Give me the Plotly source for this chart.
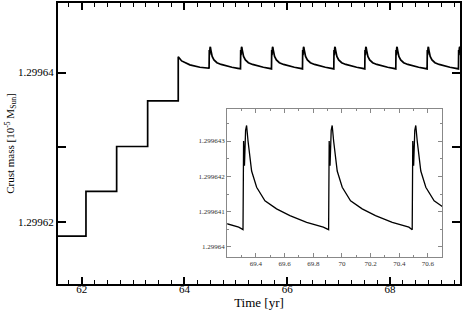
import plotly.graph_objects as go

# --- data ---
# staircase before the periodic regime
step_times = [61.54, 62.084, 62.681, 63.284, 63.879]
step_levels = [1.2996181, 1.2996241, 1.2996301, 1.2996362]

# first relaxation after the last step
first_t = [63.879, 63.945, 64.105, 64.30, 64.479]
first_v = [1.29964212, 1.29964155, 1.29964102, 1.2996407, 1.29964057]

# one periodic cycle: time offset from spike onset, value
cycle_dt = [0.0, 0.004, 0.010, 0.018, 0.025, 0.035, 0.060, 0.095, 0.153, 0.234, 0.327, 0.444, 0.56]
cycle_v = [1.29964049, 1.29964300, 1.29964230, 1.29964330, 1.29964344, 1.29964300,
           1.29964215, 1.29964169, 1.29964131, 1.29964108, 1.29964089, 1.29964070, 1.29964056]

# spike onset times (main panel and inset)
main_spikes = [64.479, 65.09, 65.693, 66.296, 66.905, 67.508, 68.111, 68.72, 69.33]
inset_spikes = [68.72, 69.31, 69.907, 70.49]

main_xticks = [62, 64, 66, 68]
main_yticks = [1.29962, 1.29963, 1.29964]
main_ylabels = ["1.29962", "", "1.29964"]
inset_xticks = [69.4, 69.6, 69.8, 70.0, 70.2, 70.4, 70.6]
inset_xlabels = ["69.4", "69.6", "69.8", "70", "70.2", "70.4", "70.6"]
inset_yticks = [1.29964, 1.299641, 1.299642, 1.299643]
inset_ylabels = ["1.29964", "1.299641", "1.299642", "1.299643"]


def build_cycles(spikes):
    t, v = [], []
    for s in spikes:
        for d, val in zip(cycle_dt, cycle_v):
            t.append(s + d)
            v.append(val)
    return t, v


# main curve
mt, mv = [], []
for i, lev in enumerate(step_levels):
    mt += [step_times[i], step_times[i + 1]]
    mv += [lev, lev]
mt += first_t
mv += first_v
ct, cv = build_cycles(main_spikes)
mt += ct
mv += cv

it, iv = build_cycles(inset_spikes)

font = "Liberation Serif"
fig = go.Figure()
fig.add_trace(go.Scatter(x=mt, y=mv, mode="lines", line=dict(color="black", width=1.7),
                         xaxis="x", yaxis="y", showlegend=False))
fig.add_trace(go.Scatter(x=it, y=iv, mode="lines", line=dict(color="black", width=1.3),
                         xaxis="x2", yaxis="y2", showlegend=False))

fig.update_layout(
    width=463, height=312,
    margin=dict(l=58, r=3, t=1, b=28),
    paper_bgcolor="white", plot_bgcolor="white",
    font=dict(family=font, color="black"),
    xaxis=dict(range=[61.54, 69.36], domain=[0, 1], anchor="y",
               showline=True, linecolor="black", linewidth=2, mirror="allticks",
               ticks="inside", ticklen=7, tickwidth=1.5, tickcolor="black",
               tickvals=main_xticks, ticktext=[str(v) for v in main_xticks],
               minor=dict(dtick=0.25, tick0=62, ticks="inside", ticklen=4, tickcolor="black", tickwidth=1),
               showgrid=False, zeroline=False, tickfont=dict(size=11), ticklabelstandoff=-6,
               title=dict(text="Time [yr]", font=dict(size=13), standoff=0)),
    yaxis=dict(range=[1.2996117, 1.2996493], domain=[0, 1], anchor="x",
               showline=True, linecolor="black", linewidth=2, mirror="allticks",
               ticks="inside", ticklen=8, tickwidth=1.5, tickcolor="black",
               tickvals=main_yticks, ticktext=main_ylabels,
               showgrid=False, zeroline=False, tickfont=dict(size=11),
               title=dict(text="Crust mass [10<sup>-5</sup> M<sub>Sun</sub>]", font=dict(size=11), standoff=1)),
    xaxis2=dict(range=[69.2, 70.7], domain=[0.421, 0.956], anchor="y2",
                showline=True, linecolor="#888", linewidth=1, mirror="allticks",
                ticks="inside", ticklen=4, tickcolor="#888",
                tickvals=inset_xticks, ticktext=inset_xlabels,
                minor=dict(dtick=0.1, tick0=69.2, ticks="inside", ticklen=2, tickcolor="#888"),
                showgrid=False, zeroline=False, tickfont=dict(size=7, color="#333")),
    yaxis2=dict(range=[1.29963972, 1.29964392], domain=[0.0965, 0.6244], anchor="x2",
                showline=True, linecolor="#888", linewidth=1, mirror="allticks",
                ticks="inside", ticklen=4, tickcolor="#888",
                tickvals=inset_yticks, ticktext=inset_ylabels,
                minor=dict(dtick=0.0000005, tick0=1.29964, ticks="inside", ticklen=2, tickcolor="#888"),
                showgrid=False, zeroline=False, tickfont=dict(size=7, color="#333")),
)

fig.write_html("out.html", config={"displayModeBar": False},
               post_script="document.body.style.margin='0';document.body.style.overflow='hidden';")
